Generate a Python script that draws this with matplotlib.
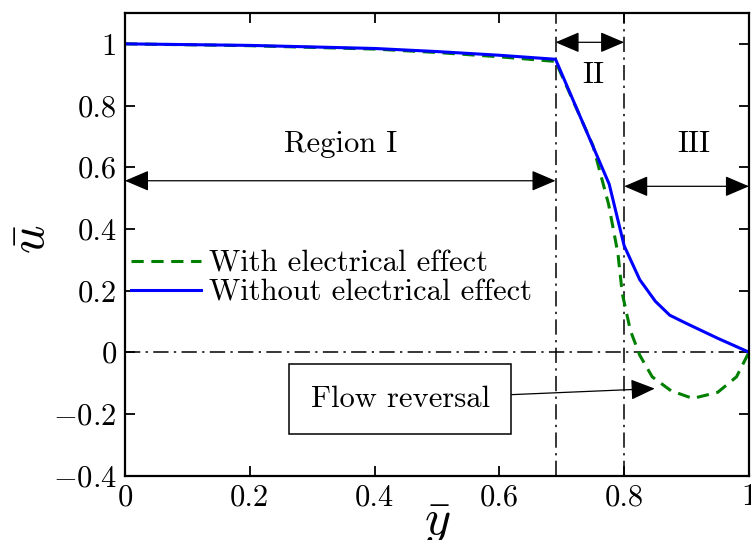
import matplotlib
matplotlib.use("Agg")
import matplotlib.pyplot as plt

plt.rcParams['font.family'] = 'cmr10'
plt.rcParams['mathtext.fontset'] = 'cm'
plt.rcParams['axes.formatter.use_mathtext'] = True

# velocity profiles
y_without = [0, 0.2, 0.4, 0.5, 0.6, 0.69, 0.776, 0.8, 0.825, 0.85, 0.873, 0.9, 0.95, 1.0]
u_without = [1.0, 0.995, 0.985, 0.975, 0.963, 0.95, 0.545, 0.345, 0.235, 0.165, 0.12, 0.093, 0.045, 0.0]

y_with = [0, 0.2, 0.4, 0.5, 0.6, 0.69, 0.705, 0.75, 0.775, 0.79, 0.797, 0.81, 0.825, 0.845,
          0.875, 0.91, 0.95, 0.98, 1.0]
u_with = [1.0, 0.994, 0.983, 0.972, 0.958, 0.943, 0.875, 0.67, 0.48, 0.32, 0.19, 0.07, -0.01, -0.08,
          -0.125, -0.15, -0.13, -0.08, 0.0]

region_bounds = [0.69, 0.8]
x_ticks = [0, 0.2, 0.4, 0.6, 0.8, 1]
y_ticks = [-0.4, -0.2, 0, 0.2, 0.4, 0.6, 0.8, 1]

fs = 22

fig = plt.figure(figsize=(7.51, 5.4), dpi=100)
ax = fig.add_axes([0.1664, 0.1194, 0.8309, 0.8565])

ax.plot(y_with, u_with, color='#008000', lw=2.2, dashes=(4, 2.5), label='With electrical effect')
ax.plot(y_without, u_without, color='#0000ff', lw=2.2, label='Without electrical effect')

dd = (0, (10, 3.5, 1.5, 3.5))
for xb in region_bounds:
    ax.axvline(xb, color='black', lw=1.1, linestyle=dd, zorder=1)
ax.axhline(0, color='black', lw=1.1, linestyle=dd, zorder=1)

arrow = dict(arrowstyle='<|-|>,head_length=0.75,head_width=0.32', color='black', lw=0.9,
             shrinkA=0, shrinkB=0, mutation_scale=20)
ax.annotate('', xy=(0, 0.556), xytext=(0.69, 0.556), arrowprops=arrow)
ax.annotate('', xy=(0.69, 1.005), xytext=(0.8, 1.005), arrowprops=arrow)
ax.annotate('', xy=(0.8, 0.538), xytext=(1.0, 0.538), arrowprops=arrow)

ax.text(0.345, 0.674, 'Region I', fontsize=fs, ha='center', va='center')
ax.text(0.751, 0.897, 'II', fontsize=fs, ha='center', va='center')
ax.text(0.911, 0.674, 'III', fontsize=fs, ha='center', va='center')

ax.annotate('Flow reversal', xy=(0.849, -0.118), xytext=(0.441, -0.153), fontsize=fs,
            ha='center', va='center',
            bbox=dict(boxstyle='square,pad=0.7', fc='white', ec='black', lw=1.1),
            arrowprops=dict(arrowstyle='-|>,head_length=0.75,head_width=0.32', color='black',
                            lw=0.9, shrinkA=0, shrinkB=0, mutation_scale=20))

ax.set_xlim(0, 1)
ax.set_ylim(-0.4, 1.1)
ax.set_xticks(x_ticks)
ax.set_yticks(y_ticks)
ax.set_xticklabels(['0', '0.2', '0.4', '0.6', '0.8', '1'])
ax.set_yticklabels([r'$-0.4$', r'$-0.2$', '0', '0.2', '0.4', '0.6', '0.8', '1'])
ax.tick_params(direction='in', top=True, right=True, length=7, width=1.3, labelsize=fs, pad=6)
for s in ax.spines.values():
    s.set_linewidth(1.6)

ax.set_xlabel(r'$\bar{y}$', fontsize=36)
ax.set_ylabel(r'$\bar{u}$', fontsize=36)
ax.xaxis.set_label_coords(0.5, -0.055)
ax.yaxis.set_label_coords(-0.112, 0.51)

ax.legend(loc='upper left', bbox_to_anchor=(0.0, 0.50), frameon=False, fontsize=fs,
          handlelength=2.3, handletextpad=0.25, labelspacing=0.05, borderpad=0, borderaxespad=0.2)

fig.savefig('out.png', dpi=100)
